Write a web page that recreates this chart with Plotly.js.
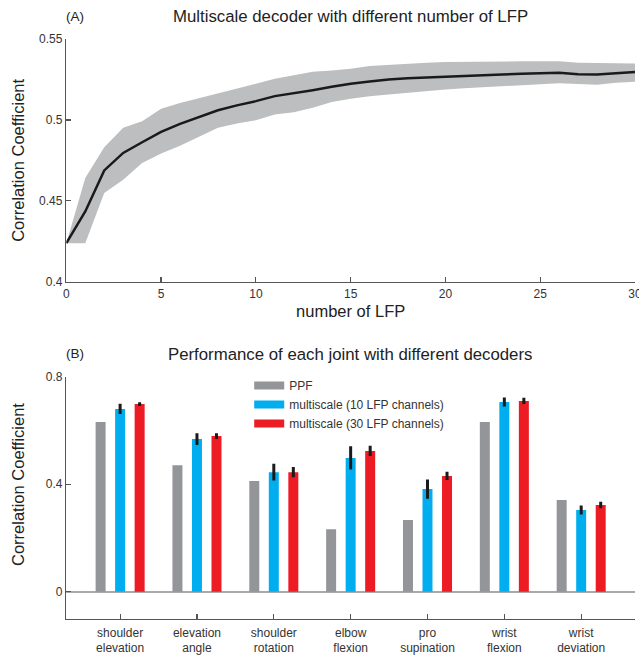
<!DOCTYPE html>
<html>
<head>
<meta charset="utf-8">
<script src="https://cdn.plot.ly/plotly-3.0.1.min.js"></script>
<style>html,body{margin:0;padding:0;background:#fff;}#chart{width:639px;height:656px;}</style>
</head>
<body>
<div id="chart"></div>
<script>
// Panel A data
const nLFP = [0,1,2,3,4,5,6,7,8,9,10,11,12,13,14,15,16,17,18,19,20,21,22,23,24,25,26,27,28,29,30];
const meanCC = [0.4238,0.4434,0.4688,0.4796,0.4862,0.4926,0.4976,0.5019,0.5060,0.5090,0.5116,0.5147,0.5164,0.5184,0.5205,0.5224,0.5238,0.5250,0.5257,0.5261,0.5269,0.5273,0.5277,0.5281,0.5286,0.5288,0.5292,0.5283,0.5281,0.5288,0.5296];
const upperCC = [0.4238,0.4641,0.4831,0.4951,0.4992,0.5069,0.5104,0.5133,0.5164,0.5193,0.5224,0.5255,0.5275,0.5298,0.5306,0.5317,0.5333,0.5341,0.5348,0.5354,0.5358,0.5360,0.5360,0.5362,0.5362,0.5362,0.5362,0.5354,0.5350,0.5350,0.5348];
const lowerCC = [0.4238,0.4238,0.4548,0.4630,0.4734,0.4792,0.4841,0.4895,0.4951,0.4978,0.4998,0.5033,0.5048,0.5075,0.5110,0.5131,0.5147,0.5157,0.5168,0.5178,0.5188,0.5196,0.5203,0.5209,0.5218,0.5221,0.5226,0.5221,0.5218,0.5230,0.5236];

// Panel B data
const joints = ["shoulder<br>elevation","elevation<br>angle","shoulder<br>rotation","elbow<br>flexion","pro<br>supination","wrist<br>flexion","wrist<br>deviation"];
const ppf = [0.631,0.471,0.412,0.233,0.267,0.631,0.341];
const ms10 = [0.680,0.568,0.445,0.498,0.382,0.706,0.304];
const ms10err = [0.019,0.022,0.031,0.043,0.036,0.017,0.017];
const ms30 = [0.698,0.579,0.445,0.524,0.431,0.710,0.323];
const ms30err = [0.007,0.011,0.019,0.019,0.015,0.012,0.012];
const seriesNames = ["PPF","multiscale (10 LFP channels)","multiscale (30 LFP channels)"];
const seriesColors = ["#939598","#00aeef","#ed1c24"];

const traces = [
  {x:nLFP, y:lowerCC, xaxis:'x', yaxis:'y', mode:'lines', line:{width:0,color:'#bcbec0'}, showlegend:false, hoverinfo:'skip'},
  {x:nLFP, y:upperCC, xaxis:'x', yaxis:'y', mode:'lines', line:{width:0,color:'#bcbec0'}, fill:'tonexty', fillcolor:'#bcbec0', showlegend:false, hoverinfo:'skip'},
  {x:nLFP, y:meanCC, xaxis:'x', yaxis:'y', mode:'lines', line:{width:2.5,color:'#1a1a1a'}, showlegend:false},
  {type:'bar', x:joints, y:ppf, xaxis:'x2', yaxis:'y2', name:seriesNames[0], marker:{color:seriesColors[0]}, showlegend:false},
  {type:'bar', x:joints, y:ms10, xaxis:'x2', yaxis:'y2', name:seriesNames[1], marker:{color:seriesColors[1]}, showlegend:false,
    error_y:{type:'data', array:ms10err, color:'#1a1a1a', thickness:3, width:0}},
  {type:'bar', x:joints, y:ms30, xaxis:'x2', yaxis:'y2', name:seriesNames[2], marker:{color:seriesColors[2]}, showlegend:false,
    error_y:{type:'data', array:ms30err, color:'#1a1a1a', thickness:3, width:0}}
];
// legend entries
for (let i=0;i<3;i++){
  traces.push({x:[null], y:[null], xaxis:'x2', yaxis:'y2', mode:'lines', name:seriesNames[i], line:{color:seriesColors[i], width:8}, showlegend:true});
}

const axisCol = '#555555';
const FF = 'Liberation Sans, Arial, sans-serif';
const tickFont = {family:FF, size:12, color:'#333'};
const layout = {
  width:639, height:656,
  margin:{l:0,r:0,t:0,b:0},
  paper_bgcolor:'#fff', plot_bgcolor:'#fff',
  font:{family:FF, color:'#222'},
  showlegend:true,
  legend:{x:0.39, y:0.4345, xanchor:'left', yanchor:'top', traceorder:'normal', font:{size:12, color:'#333'}, bgcolor:'rgba(0,0,0,0)', itemwidth:30},
  bargap:0.238, bargroupgap:0.488, barmode:'group',
  xaxis:{domain:[0.1038,0.9937], anchor:'y', range:[0,30], tickvals:[0,5,10,15,20,25,30], ticks:'inside', ticklen:5, tickcolor:axisCol, tickwidth:1.2,
    showline:true, linecolor:axisCol, linewidth:1.5, showgrid:false, zeroline:false, tickfont:tickFont, automargin:false, ticklabeloverflow:'allow',
    title:{text:'number of LFP', font:{size:16.5, color:'#222'}, standoff:6}},
  yaxis:{domain:[0.5706,0.9405], anchor:'x', range:[0.4,0.55], tickvals:[0.4,0.45,0.5,0.55], ticktext:['0.4','0.45','0.5','0.55'], ticks:'inside', ticklen:5, tickcolor:axisCol, tickwidth:1.2,
    showline:true, linecolor:axisCol, linewidth:1.5, showgrid:false, zeroline:false, tickfont:tickFont, automargin:false,
    title:{text:'Correlation Coefficient', font:{size:16.5, color:'#222'}, standoff:10}},
  xaxis2:{domain:[0.1038,0.9937], anchor:'y2', type:'category', range:[-0.7,6.7], ticks:'inside', ticklen:5, tickcolor:axisCol, tickwidth:1.2,
    showline:true, linecolor:axisCol, linewidth:1.5, showgrid:false, zeroline:false, tickfont:tickFont, automargin:false, ticklabelstandoff:2},
  yaxis2:{domain:[0.0569,0.4258], anchor:'x2', range:[-0.1,0.8], tickvals:[0,0.4,0.8], ticktext:['0','0.4','0.8'], ticks:'inside', ticklen:5, tickcolor:axisCol, tickwidth:1.2,
    showline:true, linecolor:axisCol, linewidth:1.5, showgrid:false, zeroline:true, zerolinecolor:'#a7a9ac', zerolinewidth:2, tickfont:tickFont, automargin:false},
  annotations:[
    {text:'Multiscale decoder with different number of LFP', xref:'paper', yref:'paper', x:0.548, y:1-16/656, xanchor:'center', yanchor:'middle', showarrow:false, font:{size:16.8, color:'#222'}},
    {text:'(A)', xref:'paper', yref:'paper', x:64/639, y:1-17/656, xanchor:'left', yanchor:'middle', showarrow:false, font:{size:13.5, color:'#222'}},
    {text:'Performance of each joint with different decoders', xref:'paper', yref:'paper', x:0.548, y:1-354/656, xanchor:'center', yanchor:'middle', showarrow:false, font:{size:16.8, color:'#222'}},
    {text:'(B)', xref:'paper', yref:'paper', x:64/639, y:1-353/656, xanchor:'left', yanchor:'middle', showarrow:false, font:{size:13.5, color:'#222'}},
    {text:'Correlation Coefficient', xref:'paper', yref:'paper', x:18/639, y:1-485/656, xanchor:'center', yanchor:'middle', textangle:-90, showarrow:false, font:{size:16.5, color:'#222'}}
  ]
};
Plotly.newPlot('chart', traces, layout, {displayModeBar:false, staticPlot:true});
</script>
</body>
</html>
